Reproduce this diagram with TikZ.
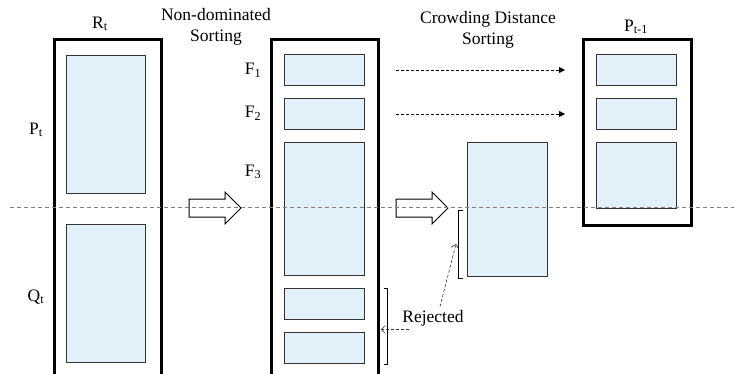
\documentclass[tikz,border=0pt]{standalone}
\usepackage{fontspec}
\setmainfont{Liberation Serif}
\usepackage{tikz}
\usetikzlibrary{
	positioning,
	arrows.meta
}
\definecolor{popblue}{RGB}{226,241,249}

\tikzset{
	fatarrow/.pic={
		\draw[line width=1pt, fill=white]
			(0,-9) -- (36,-9) -- (36,-16) -- (52,0) -- (36,16) -- (36,9) -- (0,9) -- cycle;
	}
}

\begin{document}
\begin{tikzpicture}[x=1pt, y=-1pt,
	every node/.style={font=\fontsize{17.5}{21}\selectfont},
	pool/.style={draw, line width=2.6pt, inner sep=0, anchor=north west},
	front/.style={draw=black!80, fill=popblue, line width=1pt, inner sep=0,
		anchor=north west, minimum width=80pt, minimum height=#1},
	passarrow/.style={dashed, dash pattern=on 3pt off 2pt, line width=0.9pt,
		-{Triangle[length=6pt,width=6pt]}},
	rejarrow/.style={dashed, dash pattern=on 3pt off 2pt, line width=0.6pt, black!80,
		-{Straight Barb[length=4pt,width=8pt]}}
]
	\clip (0,0) rectangle (734,373);

	% R_t = P_t + Q_t
	\node[pool, minimum width=107pt, minimum height=345pt] (Rt) at (53,38) {};
	\node[front=138pt, minimum width=79pt] (Pt) at (66,55) {};
	\node[front=138pt, minimum width=79pt] (Qt) at (66,224) {};
	\node (lRt) at (100,24) {R\textsubscript{t}};
	\node (lPt) at (36,130) {P\textsubscript{t}};
	\node (lQt) at (36,297) {Q\textsubscript{t}};

	% fronts
	\node[pool, minimum width=107pt, minimum height=345pt] (Fs) at (270,38) {};
	\node[front=31pt]  (F1) at (284,54)  {};
	\node[front=31pt]  (F2) at (284,98)  {};
	\node[front=133pt] (F3) at (284,142) {};
	\node[front=31pt]  (F4) at (284,288) {};
	\node[front=31pt]  (F5) at (284,332) {};
	\node (lF1) at (253,70)  {F\textsubscript{1}};
	\node (lF2) at (253,113) {F\textsubscript{2}};
	\node (lF3) at (253,172) {F\textsubscript{3}};
	\node[align=center] (nds) at (216,27) {Non-dominated\\Sorting};

	% crowding distance
	\node[front=134pt] (cd) at (467,142) {};
	\node[align=center] (cds) at (488,30) {Crowding Distance\\Sorting};

	% P_{t+1}
	\node[pool, minimum width=108pt, minimum height=186pt] (Pn) at (582,38) {};
	\node[front=31pt] (n1) at (596,54)  {};
	\node[front=31pt] (n2) at (596,98)  {};
	\node[front=66pt] (n3) at (596,142) {};
	\node (lPn) at (636,27) {P\textsubscript{t-1}};

	\pic at (189,208) {fatarrow};
	\pic at (396,208) {fatarrow};

	\draw[passarrow] ([xshift=31pt]F1.east) -- ([xshift=-31pt]n1.west);
	\draw[passarrow] ([xshift=31pt]F2.east) -- ([xshift=-31pt]n2.west);

	% rejected
	\draw[line width=0.8pt] ([xshift=19pt]F4.north east) -- ++(3,0) |- ([xshift=19pt]F5.south east);
	\draw[line width=0.8pt] (463,210) -- (458,210) -- (458,278) -- (463,278);
	\node (rej) at (433,318) {Rejected};
	\coordinate (brk) at (456,244);
	\draw[rejarrow] ([xshift=10pt]rej.south west) -- ++(-28,0);
	\draw[rejarrow] ([xshift=7pt]rej.north) -- (brk);

	\draw[gray, line width=0.6pt, dash pattern=on 4pt off 3pt] (10,207) -- (734,207);
\end{tikzpicture}
\end{document}
